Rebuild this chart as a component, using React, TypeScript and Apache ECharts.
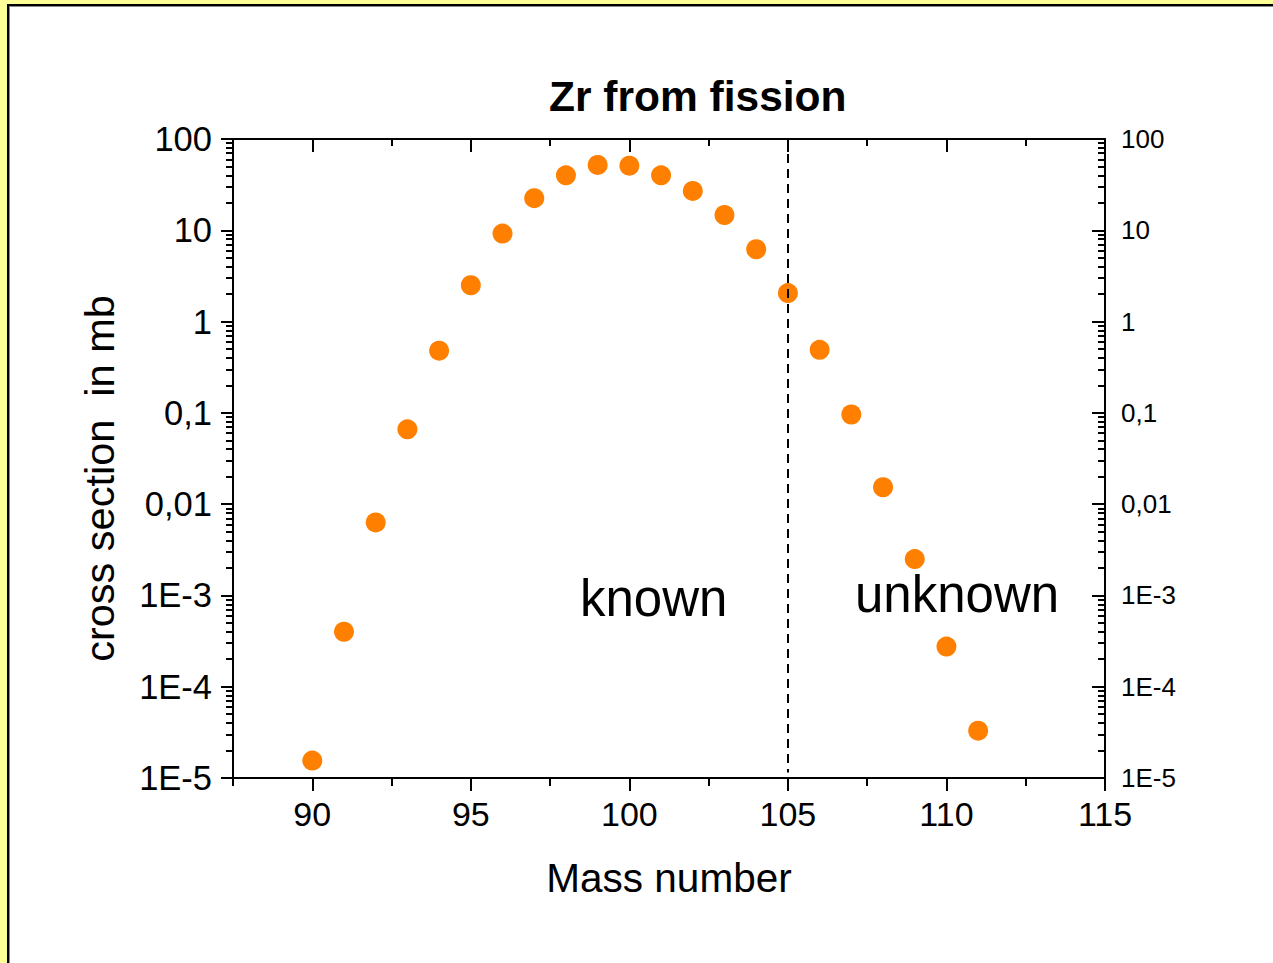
import React, { useEffect, useRef } from "react";
import * as echarts from "echarts";

// ---- data ----
const massNumbers = [90, 91, 92, 93, 94, 95, 96, 97, 98, 99, 100, 101, 102, 103, 104, 105, 106, 107, 108, 109, 110, 111];
const crossSections = [
  1.55e-5, 4.0e-4, 6.3e-3, 0.066, 0.48, 2.5, 9.2, 22.5, 40, 52, 51, 40, 27, 14.7, 6.2, 2.05, 0.49, 0.096, 0.0153,
  2.5e-3, 2.75e-4, 3.3e-5,
];
const xMajorTicks = [90, 95, 100, 105, 110, 115];
const xMinorTicks = [87.5, 92.5, 97.5, 102.5, 107.5, 112.5];
const yDecadeExponents = [-5, -4, -3, -2, -1, 0, 1, 2];
const yTickLabels = ["1E-5", "1E-4", "1E-3", "0,01", "0,1", "1", "10", "100"];
const yMinorMultipliers = [2, 3, 4, 5, 6, 7, 8, 9];
const boundaryMass = 105;
const regionLabels = ["known", "unknown"];

const FONT = "'Liberation Sans', Arial, Helvetica, sans-serif";
const BLACK = "#000";

const yMajorValues = yDecadeExponents.map((e) => Number(`1e${e}`));
const yMinorValues: number[] = [];
yDecadeExponents.slice(0, -1).forEach((e) => {
  yMinorMultipliers.forEach((k) => yMinorValues.push(Number(`${k}e${e}`)));
});

const labelFor = (v: number) => {
  const idx = yDecadeExponents.indexOf(Math.round(Math.log10(v)));
  return idx >= 0 ? yTickLabels[idx] : "";
};

export default function App() {
  const ref = useRef<HTMLDivElement>(null);

  useEffect(() => {
    if (!ref.current) return;
    const chart = echarts.init(ref.current, null, { renderer: "svg" });
    const line = { color: BLACK, width: 2 };
    const xBase = { type: "value", min: 87.5, max: 115, splitLine: { show: false } };
    const yBase = { type: "log", logBase: 10, min: 1e-5, max: 100, splitLine: { show: false } };

    const option: any = {
      animation: false,
      backgroundColor: "transparent",
      title: {
        text: "Zr from fission",
        left: 549,
        top: 75,
        padding: 0,
        textStyle: { fontSize: 42.5, fontWeight: "bold", color: BLACK, fontFamily: FONT },
      },
      grid: { left: 233, top: 139, right: 168, bottom: 185, containLabel: false },
      xAxis: [
        {
          ...xBase,
          position: "bottom",
          name: "Mass number",
          nameLocation: "middle",
          nameGap: 79,
          nameTextStyle: { fontSize: 40.5, color: BLACK, fontFamily: FONT },
          axisLine: { show: true, lineStyle: line },
          axisTick: { show: true, customValues: xMajorTicks, length: 13, inside: false, lineStyle: line },
          axisLabel: { show: true, customValues: xMajorTicks, fontSize: 34, color: BLACK, fontFamily: FONT, margin: 19 },
        },
        {
          ...xBase,
          position: "bottom",
          axisLine: { show: false },
          axisTick: { show: true, customValues: xMinorTicks, length: 8, inside: false, lineStyle: line },
          axisLabel: { show: false },
        },
        {
          ...xBase,
          position: "top",
          axisLine: { show: true, lineStyle: line },
          axisTick: { show: true, customValues: xMajorTicks, length: 13, inside: true, lineStyle: line },
          axisLabel: { show: false },
        },
        {
          ...xBase,
          position: "top",
          axisLine: { show: false },
          axisTick: { show: true, customValues: xMinorTicks, length: 7, inside: true, lineStyle: line },
          axisLabel: { show: false },
        },
      ],
      yAxis: [
        {
          ...yBase,
          position: "left",
          name: "cross section  in mb",
          nameLocation: "middle",
          nameGap: 113,
          nameTextStyle: { fontSize: 41.5, color: BLACK, fontFamily: FONT, padding: [0, 40, 0, 0] },
          axisLine: { show: true, lineStyle: line },
          axisTick: { show: true, customValues: yMajorValues, length: 12, inside: false, lineStyle: line },
          axisLabel: {
            show: true,
            customValues: yMajorValues,
            formatter: labelFor,
            fontSize: 34.5,
            color: BLACK,
            fontFamily: FONT,
            margin: 21,
          },
        },
        {
          ...yBase,
          position: "left",
          axisLine: { show: false },
          axisTick: { show: true, customValues: yMinorValues, length: 7, inside: false, lineStyle: line },
          axisLabel: { show: false },
        },
        {
          ...yBase,
          position: "right",
          axisLine: { show: true, lineStyle: line },
          axisTick: { show: true, customValues: yMajorValues, length: 13, inside: true, lineStyle: line },
          axisLabel: {
            show: true,
            customValues: yMajorValues,
            formatter: labelFor,
            fontSize: 26,
            color: BLACK,
            fontFamily: FONT,
            margin: 16,
          },
        },
        {
          ...yBase,
          position: "right",
          axisLine: { show: false },
          axisTick: { show: true, customValues: yMinorValues, length: 7, inside: true, lineStyle: line },
          axisLabel: { show: false },
        },
      ],
      series: [
        {
          type: "scatter",
          xAxisIndex: 0,
          yAxisIndex: 0,
          symbol: "circle",
          symbolSize: 20,
          itemStyle: { color: "#FF8000", opacity: 1 },
          data: massNumbers.map((m, i) => [m, crossSections[i]]),
          markLine: {
            silent: true,
            symbol: "none",
            label: { show: false },
            lineStyle: { color: BLACK, type: [9, 6], width: 2, opacity: 1 },
            data: [[{ coord: [boundaryMass, 100] }, { coord: [boundaryMass, 1.15e-5] }]],
          },
        },
      ],
      graphic: [
        {
          type: "text",
          x: 580,
          y: 598,
          style: {
            text: regionLabels[0],
            fontSize: 51,
            fontFamily: FONT,
            fill: BLACK,
            align: "left",
            verticalAlign: "middle",
          },
        },
        {
          type: "text",
          x: 855,
          y: 594,
          style: {
            text: regionLabels[1],
            fontSize: 51,
            fontFamily: FONT,
            fill: BLACK,
            align: "left",
            verticalAlign: "middle",
          },
        },
      ],
    };
    chart.setOption(option);
    return () => chart.dispose();
  }, []);

  return (
    <div style={{ position: "fixed", left: 0, top: 0, width: 1273, height: 963, background: "#FFFF99", overflow: "hidden" }}>
      <div
        style={{
          position: "absolute",
          left: 7,
          top: 4,
          width: 1273,
          height: 963,
          background: "#fff",
          borderLeft: "2px solid #000",
          borderTop: "2px solid #000",
          boxShadow: "inset 1px 1px 0 #888",
        }}
      />
      <div ref={ref} style={{ position: "absolute", left: 0, top: 0, width: 1273, height: 963 }} />
    </div>
  );
}
